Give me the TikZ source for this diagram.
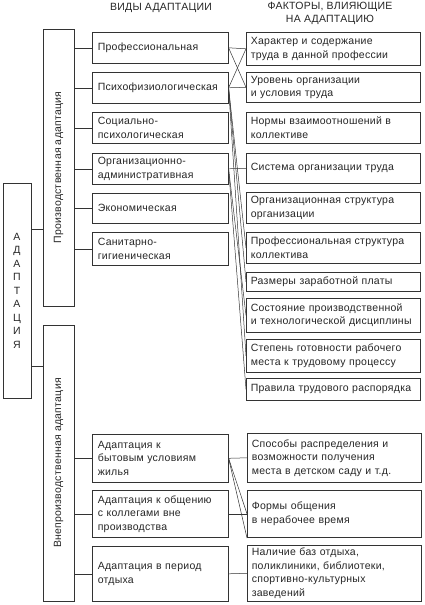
\documentclass[tikz,border=0pt]{standalone}
\usepackage{fontspec}
\setmainfont{Liberation Sans}[LetterSpace=2.5]
\usetikzlibrary{positioning}

\tikzset{
  box/.style={draw=black!80, line width=0.6pt, anchor=north west, inner ysep=1pt, align=left, font=\fontsize{10.5}{13.5}\selectfont, text=black!85},
  vid/.style={box, minimum width=136pt, text width=125pt, inner xsep=5.5pt},
  fak/.style={box, minimum width=174pt, text width=165pt, inner xsep=4.5pt},
  tall/.style={draw=black!80, line width=0.6pt, minimum width=31pt, inner sep=0pt},
  lnk/.style={draw=black!80, line width=0.5pt},
  head/.style={align=center, inner sep=0.75pt, font=\fontsize{10.5}{13}\selectfont, text=black!85}
}

\begin{document}
\begin{tikzpicture}[x=1pt,y=1pt,yscale=-1,xscale=1]
  \useasboundingbox (0,0) rectangle (425,605);

  % headers
  \node[head] (hvid) at (161,7.5) {ВИДЫ АДАПТАЦИИ};
  \node[head] (hfak) at (330,13) {ФАКТОРЫ, ВЛИЯЮЩИЕ\\НА АДАПТАЦИЮ};

  % left column
  \node[tall, minimum width=28pt, minimum height=215pt] (adapt) at (17,290.5) {};
  \node[inner sep=0pt, align=center, font=\fontsize{10.5}{13.5}\selectfont, text=black!85] (adaptlbl) at (adapt.center) {А\\Д\\А\\П\\Т\\А\\Ц\\И\\Я};
  \node[tall, minimum height=277pt] (prod) at (58.5,167.5) {};
  \node[rotate=90, inner sep=0pt, font=\fontsize{10.5}{13}\selectfont, text=black!85] (prodlbl) at (prod.center) {Производственная адаптация};
  \node[tall, minimum height=276pt] (vne) at (58.5,463) {};
  \node[rotate=90, inner sep=0pt, font=\fontsize{10.5}{13}\selectfont, text=black!85] (vnelbl) at (vne.center) {Внепроизводственная адаптация};

  \coordinate (ja) at (adapt.east |- 0,229);
  \coordinate (jb) at (adapt.east |- 0,366);
  \draw[lnk] (ja) -- (ja -| prod.west);
  \draw[lnk] (jb) -- (jb -| vne.west);

  % kinds of adaptation
  \node[vid, minimum height=31pt] (v1) at (92,32) {Профессиональная};
  \node[vid, minimum height=31pt] (v2) at (92,72) {Психофизиологическая};
  \node[vid, minimum height=31pt] (v3) at (92,112) {Социально-\\психологическая};
  \node[vid, minimum height=31pt] (v4) at (92,153) {Организационно-\\административная};
  \node[vid, minimum height=30pt] (v5) at (92,193) {Экономическая};
  \node[vid, minimum height=33pt] (v6) at (92,232) {Санитарно-\\гигиеническая};
  \node[vid, minimum height=48pt] (v7) at (92,434) {Адаптация к\\бытовым условиям\\жилья};
  \node[vid, minimum height=47pt] (v8) at (92,490) {Адаптация к общению\\с коллегами вне\\производства};
  \node[vid, minimum height=55pt] (v9) at (92,546) {Адаптация в период\\отдыха};

  \foreach \v in {v1,v2,v3,v4,v5,v6}
    \draw[lnk] (prod.east |- \v.west) -- (\v.west);
  \foreach \v in {v7,v8,v9}
    \draw[lnk] (vne.east |- \v.west) -- (\v.west);

  % factors
  \node[fak, minimum height=33pt] (f1) at (246,32) {Характер и содержание\\труда в данной профессии};
  \node[fak, minimum height=30pt] (f2) at (246,72) {Уровень организации\\и условия труда};
  \node[fak, minimum height=31pt] (f3) at (246,112) {Нормы взаимоотношений в\\коллективе};
  \node[fak, minimum height=30pt] (f4) at (246,153) {Система организации труда};
  \node[fak, minimum height=31pt] (f5) at (246,192) {Организационная структура\\организации};
  \node[fak, minimum height=31pt] (f6) at (246,232) {Профессиональная структура\\коллектива};
  \node[fak, minimum height=19pt] (f7) at (246,272) {Размеры заработной платы};
  \node[fak, minimum height=34pt] (f8) at (246,298) {Состояние производственной\\и технологической дисциплины};
  \node[fak, minimum height=33pt] (f9) at (246,339) {Степень готовности рабочего\\места к трудовому процессу};
  \node[fak, minimum height=22pt] (f10) at (246,378) {Правила трудового распорядка};
  \node[fak, minimum height=49pt] (f11) at (247,433) {Способы распределения и\\возможности получения\\места в детском саду и т.д.};
  \node[fak, minimum height=47pt] (f12) at (247,490) {Формы общения\\в нерабочее время};
  \node[fak, minimum height=56pt] (f13) at (247,545) {Наличие баз отдыха,\\поликлиники, библиотеки,\\спортивно-культурных\\заведений};

  % links between kinds and factors
  \draw[lnk] (v1.east) -- (f1.west);
  \draw[lnk] (v1.east) -- (f2.west);
  \draw[lnk] (v2.east) -- (f1.west);
  \draw[lnk] (v2.east) -- (f2.west);
  \draw[lnk] (v2.east) -- (f6.west);
  \draw[lnk] (v2.east) -- (f7.west);
  \draw[lnk] (v2.east) -- (f9.west);
  \draw[lnk] (v4.east) -- (f4.west);
  \draw[lnk] (v4.east) -- (f8.west);
  \draw[lnk] (v4.east) -- (f10.west);
  \draw[lnk] (v7.east) -- (f11.west);
  \draw[lnk] (v7.east) -- (f12.west);
  \draw[lnk] (v7.east) -- ([yshift=-7pt]f13.north west);
  \draw[lnk] (v8.east) -- (f12.west);
  \draw[lnk] (v9.east) -- (f13.west);
\end{tikzpicture}
\end{document}
